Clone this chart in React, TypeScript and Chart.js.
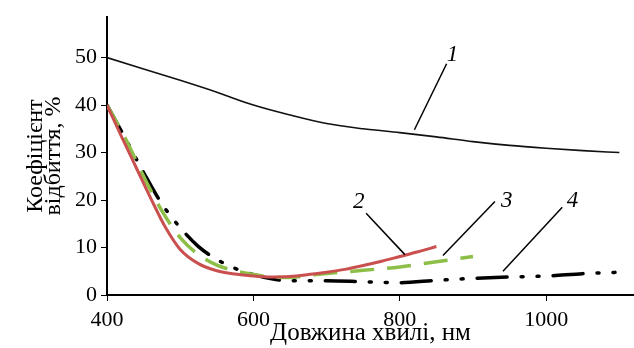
import React, { useEffect, useRef } from "react";
import { Chart, registerables } from "chart.js";

Chart.register(...registerables);

const curve1X = [400, 450, 500, 550, 600, 650, 700, 750, 800, 850, 900, 950, 1000, 1050, 1100];
const curve1Y = [50, 47.6, 45.2, 42.7, 40.0, 37.9, 36.1, 35.0, 34.2, 33.3, 32.3, 31.5, 30.9, 30.4, 30.0];

const curve2X = [400, 420, 440, 460, 480, 500, 525, 550, 575, 600, 625, 650, 675, 700, 725, 750, 775, 800, 825, 850];
const curve2Y = [40, 33.3, 26.8, 20.3, 14.2, 9.6, 6.6, 5.1, 4.4, 4.0, 3.8, 3.9, 4.3, 4.8, 5.4, 6.2, 7.1, 8.1, 9.1, 10.2];

const curve3X = [400, 425, 450, 475, 500, 525, 550, 575, 600, 625, 650, 675, 700, 750, 800, 850, 900];
const curve3Y = [40, 33.0, 25.0, 17.7, 12.1, 8.5, 6.3, 5.1, 4.3, 3.8, 3.7, 4.1, 4.5, 5.2, 5.9, 7.0, 8.1];

const curve4X = [400, 425, 450, 475, 500, 525, 550, 575, 600, 625, 650, 700, 750, 800, 850, 900, 950, 1000, 1050, 1100];
const curve4Y = [40, 33.0, 25.8, 19.2, 14.2, 10.2, 7.5, 5.6, 4.3, 3.4, 3.0, 3.0, 2.8, 2.6, 3.1, 3.5, 3.8, 4.0, 4.5, 4.8];

const xTicks = [400, 600, 800, 1000];
const yTicks = [0, 10, 20, 30, 40, 50];

// curve labels: text, label position, leader start, leader end (data units)
const labelTexts = ["1", "2", "3", "4"];
const labelPosX = [872, 744, 946, 1036];
const labelPosY = [50.6, 19.5, 19.9, 19.9];
const leaderFromX = [864, 754, 930, 1022];
const leaderFromY = [48.7, 17.2, 19.7, 18.5];
const leaderToX = [820, 807, 859, 941];
const leaderToY = [34.8, 8.5, 8.3, 5.0];

const toPoints = (xs: number[], ys: number[]) => xs.map((x, i) => ({ x, y: ys[i] }));

const FONT = "'Liberation Serif', 'Times New Roman', serif";

const labelsPlugin = {
  id: "curveLabels",
  afterDatasetsDraw(chart: any) {
    const { ctx } = chart;
    const xs = chart.scales.x;
    const ys = chart.scales.y;
    ctx.save();
    ctx.strokeStyle = "#000";
    ctx.lineWidth = 1.5;
    ctx.fillStyle = "#000";
    ctx.font = `italic 23px ${FONT}`;
    ctx.textAlign = "center";
    ctx.textBaseline = "middle";
    for (let i = 0; i < labelTexts.length; i++) {
      ctx.beginPath();
      ctx.moveTo(xs.getPixelForValue(leaderFromX[i]), ys.getPixelForValue(leaderFromY[i]));
      ctx.lineTo(xs.getPixelForValue(leaderToX[i]), ys.getPixelForValue(leaderToY[i]));
      ctx.stroke();
      ctx.fillText(labelTexts[i], xs.getPixelForValue(labelPosX[i]), ys.getPixelForValue(labelPosY[i]));
    }
    ctx.restore();
  },
};

export default function App() {
  const ref = useRef<HTMLCanvasElement | null>(null);
  useEffect(() => {
    if (!ref.current) return;
    const common = { pointRadius: 0, fill: false, cubicInterpolationMode: "monotone" as const };
    const chart = new Chart(ref.current, {
      type: "line",
      data: {
        datasets: [
          { ...common, data: toPoints(curve1X, curve1Y), borderColor: "#111", borderWidth: 1.6 },
          { ...common, data: toPoints(curve2X, curve2Y), borderColor: "#c9504f", borderWidth: 3 },
          { ...common, data: toPoints(curve3X, curve3Y), borderColor: "#8dbf48", borderWidth: 3.5, borderDash: [24, 13] },
          {
            ...common,
            data: toPoints(curve4X, curve4Y),
            borderColor: "#000",
            borderWidth: 3.5,
            borderDash: [30, 14, 2, 14, 2, 14],
            borderCapStyle: "round",
          },
        ],
      },
      options: {
        animation: false,
        responsive: false,
        maintainAspectRatio: false,
        layout: { padding: { top: 12, right: 0, bottom: 0, left: 0 } },
        plugins: { legend: { display: false }, tooltip: { enabled: false } },
        scales: {
          x: {
            type: "linear",
            min: 400,
            max: 1120,
            afterFit: (s: any) => {
              s.height = 53;
            },
            afterBuildTicks: (s: any) => {
              s.ticks = xTicks.map((v) => ({ value: v }));
            },
            ticks: {
              includeBounds: false,
              color: "#000",
              font: { family: FONT, size: 22 },
              padding: 6,
              maxRotation: 0,
              callback: (v: any) => String(v),
            },
            grid: { drawOnChartArea: false, drawTicks: true, tickLength: 6, color: "#000", lineWidth: 1 },
            border: { display: true, color: "#000", width: 2 },
            title: {
              display: true,
              text: "Довжина хвилі, нм",
              color: "#000",
              font: { family: FONT, size: 25 },
              padding: { top: 0, bottom: 0 },
            },
          },
          y: {
            type: "linear",
            min: 0,
            max: 58.5,
            afterFit: (s: any) => {
              s.width = 107;
            },
            afterBuildTicks: (s: any) => {
              s.ticks = yTicks.map((v) => ({ value: v }));
            },
            ticks: {
              includeBounds: false,
              color: "#000",
              font: { family: FONT, size: 22 },
              padding: 4,
              callback: (v: any) => String(v),
            },
            grid: { drawOnChartArea: false, drawTicks: true, tickLength: 6, color: "#000", lineWidth: 1 },
            border: { display: true, color: "#000", width: 2 },
            title: {
              display: true,
              text: ["Коефіцієнт", "відбиття, %"],
              color: "#000",
              font: { family: FONT, size: 24, lineHeight: 0.78 },
              padding: { top: 26, bottom: 0 },
            },
          },
        },
      },
      plugins: [labelsPlugin],
    });
    return () => chart.destroy();
  }, []);
  return (
    <div style={{ position: "fixed", left: 0, top: 0, width: 634, height: 348, background: "#fff" }}>
      <canvas ref={ref} width={634} height={348} style={{ width: 634, height: 348 }} />
    </div>
  );
}
